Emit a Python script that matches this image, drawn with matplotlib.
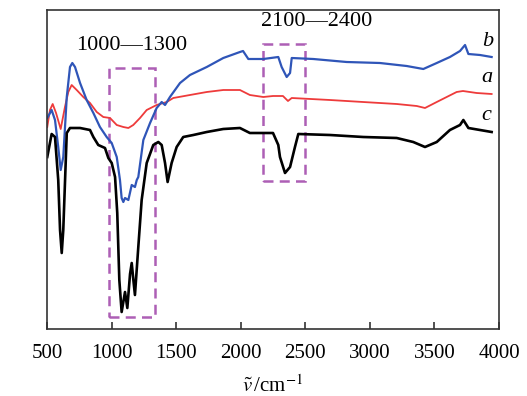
import matplotlib
matplotlib.use("Agg")
import matplotlib.pyplot as plt
from matplotlib.patches import Rectangle

plt.rcParams['font.family'] = ['Liberation Serif', 'DejaVu Serif']
plt.rcParams['mathtext.fontset'] = 'stix'

# curve a (red)
a_x = [502, 523, 544, 570, 606, 639, 665, 691, 730, 781, 833, 885, 936, 988, 1040, 1091, 1130, 1168,
       1220, 1272, 1349, 1427, 1478, 1607, 1737, 1865, 1994, 2071, 2175, 2250, 2327, 2366, 2395,
       2691, 2947, 3208, 3363, 3427, 3518, 3672, 3721, 3827, 3943]
a_y = [202, 219, 225, 216, 200, 222, 237, 244, 239, 232, 226, 217, 212, 211, 204, 202, 201, 204,
       211, 219, 224, 227, 231, 234, 237, 239, 239, 234, 232, 233, 233, 228, 231,
       229, 227, 225, 223, 221, 227, 237, 238, 236, 235]

# curve b (blue)
b_x = [502, 536, 562, 587, 606, 626, 653, 678, 696, 717, 756, 807, 859, 910, 962, 1001, 1040, 1065,
       1078, 1091, 1104, 1130, 1156, 1181, 1195, 1207, 1246, 1298, 1349, 1388, 1414, 1452, 1530,
       1607, 1737, 1865, 1994, 2018, 2059, 2175, 2291, 2317, 2356, 2382, 2395, 2562, 2820, 3078,
       3285, 3414, 3518, 3620, 3698, 3737, 3763, 3853, 3943]
b_y = [211, 219, 209, 182, 159, 172, 232, 262, 266, 262, 246, 229, 216, 202, 192, 186, 172, 149,
       131, 127, 131, 129, 144, 142, 149, 152, 189, 206, 221, 227, 224, 232, 246,
       254, 262, 271, 277, 278, 270, 270, 272, 262, 252, 256, 271, 270, 267, 266,
       263, 260, 266, 272, 278, 284, 275, 274, 272]

# curve c (black)
c_x = [502, 536, 562, 587, 601, 614, 626, 653, 678, 756, 833, 859, 897, 949, 975, 1001, 1027, 1044,
       1060, 1078, 1104, 1122, 1143, 1156, 1168, 1181, 1207, 1233, 1272, 1323, 1362, 1388, 1414,
       1434, 1465, 1504, 1555, 1633, 1737, 1865, 1994, 2071, 2250, 2291, 2304, 2343, 2382, 2420,
       2446, 2691, 2949, 3208, 3336, 3427, 3518, 3620, 3698, 3724, 3763, 3853, 3943]
c_y = [172, 195, 192, 149, 99, 76, 99, 196, 201, 201, 199, 192, 184, 181, 171, 166, 152, 116,
       49, 17, 37, 21, 55, 66, 50, 34, 82, 129, 166, 184, 187, 184, 166,
       147, 166, 182, 192, 194, 197, 200, 201, 196, 196, 184, 172, 156, 162, 182,
       195, 194, 192, 191, 187, 182, 187, 199, 204, 209, 201, 199, 197]

xticks = [500, 1000, 1500, 2000, 2500, 3000, 3500, 4000]
box1 = (982, 1336, 12, 261)
box2 = (2170, 2498, 148, 285)

fig = plt.figure(figsize=(5.27, 3.96), dpi=100)
ax = fig.add_axes([47/527, 1-329/396, 452/527, 319/396])

ax.plot(a_x, a_y, color='#ee3b3b', lw=1.3)
ax.plot(b_x, b_y, color='#2f55b8', lw=1.6)
ax.plot(c_x, c_y, color='black', lw=1.9)

purple = '#ad5fb5'
for (x0, x1, y0, y1) in (box1, box2):
    ax.add_patch(Rectangle((x0, y0), x1 - x0, y1 - y0, fill=False, edgecolor=purple,
                           lw=1.8, linestyle=(0, (4, 2.5))))

ax.text(1158, 284, '1000—1300', fontsize=16, ha='center', va='center')
ax.text(2591, 307, '2100—2400', fontsize=16, ha='center', va='center')
ax.text(3915, 288, 'b', fontsize=16, style='italic', ha='center', va='center')
ax.text(3905, 251, 'a', fontsize=16, style='italic', ha='center', va='center')
ax.text(3905, 214, 'c', fontsize=16, style='italic', ha='center', va='center')

ax.set_xlim(500, 4000)
ax.set_ylim(0, 319)
ax.set_xticks(xticks)
ax.set_xticklabels([str(t) for t in xticks], fontsize=15)
ax.set_yticks([])
ax.tick_params(axis='x', direction='in', length=5, width=1.2, pad=11, colors='#333333', labelcolor='black')
for s in ax.spines.values():
    s.set_linewidth(1.2)
    s.set_color('#333333')
ax.set_xlabel(r'$\tilde{v}\,$/cm$^{-1}$', fontsize=15, labelpad=9)

fig.savefig('out.png', dpi=100)
